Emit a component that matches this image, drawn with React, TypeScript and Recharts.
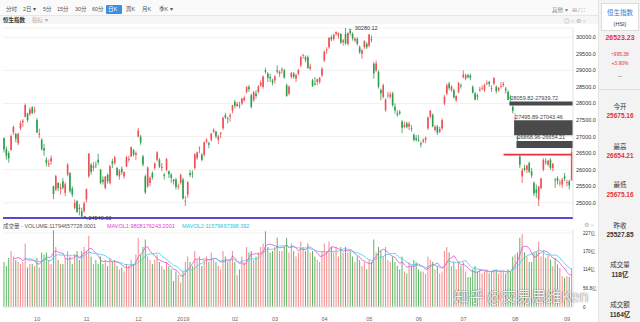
import React from 'react'
import {
  ComposedChart, Bar, Line, XAxis, YAxis, CartesianGrid, Cell,
  ReferenceArea, ReferenceLine, ReferenceDot,
} from 'recharts'

// HSI daily candles, 2018-09-10 .. 2019-09-04
const dates = [
  '2018-09-10','2018-09-11','2018-09-12','2018-09-13','2018-09-14','2018-09-17','2018-09-18','2018-09-19','2018-09-20','2018-09-21','2018-09-24','2018-09-26','2018-09-27','2018-09-28',
  '2018-10-02','2018-10-03','2018-10-04','2018-10-05','2018-10-08','2018-10-09','2018-10-10','2018-10-11','2018-10-12','2018-10-15','2018-10-16','2018-10-18','2018-10-19','2018-10-22','2018-10-23','2018-10-24','2018-10-25','2018-10-26','2018-10-29','2018-10-30','2018-10-31',
  '2018-11-01','2018-11-02','2018-11-05','2018-11-06','2018-11-07','2018-11-08','2018-11-09','2018-11-12','2018-11-13','2018-11-14','2018-11-15','2018-11-16','2018-11-19','2018-11-20','2018-11-21','2018-11-22','2018-11-23','2018-11-26','2018-11-27','2018-11-28','2018-11-29','2018-11-30',
  '2018-12-03','2018-12-04','2018-12-05','2018-12-06','2018-12-07','2018-12-10','2018-12-11','2018-12-12','2018-12-13','2018-12-14','2018-12-17','2018-12-18','2018-12-19','2018-12-20','2018-12-21','2018-12-24','2018-12-27','2018-12-28','2018-12-31',
  '2019-01-02','2019-01-03','2019-01-04','2019-01-07','2019-01-08','2019-01-09','2019-01-10','2019-01-11','2019-01-14','2019-01-15','2019-01-16','2019-01-17','2019-01-18','2019-01-21','2019-01-22','2019-01-23','2019-01-24','2019-01-25','2019-01-28','2019-01-29','2019-01-30','2019-01-31',
  '2019-02-01','2019-02-04','2019-02-08','2019-02-11','2019-02-12','2019-02-13','2019-02-14','2019-02-15','2019-02-18','2019-02-19','2019-02-20','2019-02-21','2019-02-22','2019-02-25','2019-02-26','2019-02-27','2019-02-28',
  '2019-03-01','2019-03-04','2019-03-05','2019-03-06','2019-03-07','2019-03-08','2019-03-11','2019-03-12','2019-03-13','2019-03-14','2019-03-15','2019-03-18','2019-03-19','2019-03-20','2019-03-21','2019-03-22','2019-03-25','2019-03-26','2019-03-27','2019-03-28','2019-03-29',
  '2019-04-01','2019-04-02','2019-04-03','2019-04-04','2019-04-08','2019-04-09','2019-04-10','2019-04-11','2019-04-12','2019-04-15','2019-04-16','2019-04-17','2019-04-18','2019-04-23','2019-04-24','2019-04-25','2019-04-26','2019-04-29','2019-04-30',
  '2019-05-02','2019-05-03','2019-05-06','2019-05-07','2019-05-08','2019-05-09','2019-05-10','2019-05-14','2019-05-15','2019-05-16','2019-05-17','2019-05-20','2019-05-21','2019-05-22','2019-05-23','2019-05-24','2019-05-27','2019-05-28','2019-05-29','2019-05-30','2019-05-31',
  '2019-06-03','2019-06-04','2019-06-05','2019-06-06','2019-06-10','2019-06-11','2019-06-12','2019-06-13','2019-06-14','2019-06-17','2019-06-18','2019-06-19','2019-06-20','2019-06-21','2019-06-24','2019-06-25','2019-06-26','2019-06-27','2019-06-28',
  '2019-07-02','2019-07-03','2019-07-04','2019-07-05','2019-07-08','2019-07-09','2019-07-10','2019-07-11','2019-07-12','2019-07-15','2019-07-16','2019-07-17','2019-07-18','2019-07-19','2019-07-22','2019-07-23','2019-07-24','2019-07-25','2019-07-26','2019-07-29','2019-07-30','2019-07-31',
  '2019-08-01','2019-08-02','2019-08-05','2019-08-06','2019-08-07','2019-08-08','2019-08-09','2019-08-12','2019-08-13','2019-08-14','2019-08-15','2019-08-16','2019-08-19','2019-08-20','2019-08-21','2019-08-22','2019-08-23','2019-08-26','2019-08-27','2019-08-28','2019-08-29','2019-08-30',
  '2019-09-02','2019-09-03','2019-09-04',
]

const opens = [
  26950,26620,26500,26600,27130,27080,26800,27250,27430,27600,27700,27680,27880,27760,
  27500,27050,26900,26650,26300,26150,26250,25500,25400,25600,25420,25650,25300,25850,25900,25430,24850,25050,24850,24750,24750,
  25100,25800,26150,26050,26150,26300,26000,25700,25450,25850,25600,26250,26200,26050,25800,26030,25800,26100,26300,26400,26600,26450,
  27000,27000,26400,25800,25500,25600,25900,26050,26300,26300,26050,25850,26000,25950,25850,25700,25700,25480,25600,
  25700,25050,25250,25900,25900,26050,26350,26650,26450,26450,26850,26800,26900,27150,27150,26900,27080,27250,27650,27550,27600,27780,
  28050,27920,27950,28000,28100,28350,28500,28250,28100,28300,28350,28550,28500,29000,28900,28800,28700,
  28700,29000,28900,29000,29000,28550,28300,28800,28900,28750,28900,29150,29450,29400,29400,29050,28700,28600,28650,28650,28850,
  29300,29600,29700,30000,29950,30100,30050,30100,29850,30100,29800,30200,30100,29900,29950,29700,29500,29700,29800,
  29750,29950,29200,29000,28950,28400,28200,27800,28250,28200,28300,27900,27700,27750,27450,27300,27400,27300,27250,27050,26950,
  26900,26800,26850,26900,27250,27600,27650,27200,27300,27150,27250,28000,28300,28600,28400,28400,28100,28350,28550,
  28800,28750,28850,28850,28500,28300,28250,28400,28450,28400,28600,28650,28450,28600,28500,28400,28500,28550,28450,28350,28200,27900,
  27550,27000,26400,25800,26050,26000,26200,25950,25600,25400,25100,25450,26000,26250,26150,26300,26050,25700,25750,25600,25550,25800,
  25600,25650,25675.16,
]

const highs = [
  26980,26700,26560,27060,27330,27120,27120,27480,27530,28000,27720,27880,27920,27900,
  27560,27240,26950,26780,26380,26310,26430,25520,25850,25620,25580,25750,25620,26200,25920,25500,25100,25080,24960,24850,25040,
  25430,26500,26200,26230,26250,26480,26020,25800,25810,25880,26150,26330,26420,26080,26020,26100,25950,26420,26420,26700,26620,26550,
  27260,27050,26450,25850,26100,25800,25950,26220,26560,26350,26200,25900,26350,25980,25900,25720,25750,25580,25880,
  25760,25200,25650,25990,25980,26500,26550,26700,26500,26850,26950,26850,27100,27250,27180,27050,27130,27600,27720,27600,27700,27960,
  28110,28050,28050,28180,28230,28520,28560,28300,28380,28400,28560,28700,28850,29080,28950,28900,28750,
  28860,29150,29000,29090,29050,28600,28550,28950,28950,28900,29050,29420,29500,29450,29450,29200,28750,28800,28750,28800,29100,
  29600,29700,30000,30060,30100,30180,30150,30120,29950,30280.12,30150,30250,30150,30000,30000,29750,29650,29900,29850,
  30100,30050,29250,29300,29000,28450,28600,28150,28350,28350,28350,28000,27800,27800,27500,27450,27450,27450,27350,27100,27050,
  27050,26850,26950,27000,27600,27800,27700,27350,27350,27300,27550,28250,28600,28650,28550,28450,28250,28650,28600,
  29000,28900,28900,28900,28550,28350,28300,28500,28550,28600,28700,28680,28550,28800,28550,28500,28650,28650,28500,28400,28250,27939.72,
  27700,27043.46,26450,26050,26150,26150,26250,26050,25650,25550,25500,25750,26350,26350,26300,26350,26200,25750,25800,25700,25750,25900,
  25700,25700,26654.21,
]

const lows = [
  26520,26300,26219,26560,27050,26830,26740,27200,27300,27580,27430,27620,27680,27700,
  27100,26950,26580,26420,26100,26080,26150,25110,25350,25350,25250,25400,25200,25800,25300,25170,24800,24700,24620,24540.63,24700,
  25010,25750,25850,25950,26050,26150,25560,25550,25400,25580,25560,26050,26150,25800,25700,25850,25730,26080,26230,26380,26400,26300,
  26980,26750,26100,25260,25450,25500,25700,26000,26250,26050,25950,25700,25950,25750,25600,25550,25400,25400,25550,
  25100,24900,25150,25780,25750,26000,26300,26500,26250,26400,26800,26650,26850,27100,26950,26780,26950,27200,27530,27400,27450,27700,
  27850,27900,27850,27950,28050,28300,28350,27850,28050,28150,28300,28500,28450,28900,28650,28650,28550,
  28600,28900,28800,28900,28750,28200,28250,28750,28750,28650,28850,29100,29350,29250,29050,29000,28500,28550,28550,28600,28800,
  29250,29500,29650,29880,29900,30050,29950,29800,29750,29780,29750,30050,29900,29850,29750,29500,29350,29650,29650,
  29700,29850,28750,28950,28450,28100,28150,27750,28150,28150,27900,27700,27600,27650,27100,27250,27250,27200,27150,26850,26850,
  26850,26670,26800,26800,27200,27550,27280,27150,27050,27100,27200,27950,28250,28400,28350,28150,28050,28300,28450,
  28750,28700,28750,28700,28300,28100,28100,28350,28400,28350,28550,28500,28350,28550,28300,28350,28450,28500,28300,28100,28059.82,27700,
  27495.89,26868.96,26050,25600,25950,25900,25900,25750,25200,25150,24899,25400,25950,26150,26100,26000,25950,25450,25550,25500,25450,25650,
  25500,25400,25675.16,
]

const closes = [
  26613,26422,26345,27014,27286,26933,27084,27407,27477,27953,27499,27816,27715,27788,
  27126,27091,26623,26573,26202,26193,26345,25266,25801,25445,25462,25454,25561,26153,25346,25249,24994,24717,24812,24585,24979,
  25416,26486,25934,26120,26148,26227,25601,25633,25792,25654,26103,26184,26372,25843,25969,25928,25927,26376,26331,26682,26451,26507,
  27182,26819,26156,25314,26063,25752,25771,26186,26524,26094,26087,25814,26325,25865,25753,25651,25478,25504,25845,
  25130,25064,25626,25835,25875,26462,26521,26667,26298,26830,26902,26755,27090,27196,27005,27008,27120,27569,27576,27531,27642,27942,
  27930,27990,27946,28143,28171,28497,28432,27900,28347,28228,28514,28629,28816,28959,28772,28757,28633,
  28812,28961,28960,29037,28779,28228,28503,28920,28807,28851,29012,29409,29466,29320,29071,29113,28523,28567,28728,28775,29051,
  29562,29624,29986,29936,30077,30157,30119,29839,29909,29812,30129,30124,29963,29963,29805,29549,29605,29893,29699,
  30082,29944,28912,29210,28503,28311,28550,28122,28268,28275,27946,27788,27657,27705,27267,27353,27288,27390,27235,26901,26901,
  26893,26761,26895,26965,27578,27789,27308,27294,27118,27227,27498,28202,28550,28473,28513,28185,28221,28621,28542,
  28875,28855,28795,28775,28331,28116,28204,28431,28471,28554,28619,28593,28461,28765,28371,28466,28524,28594,28397,28106,28146,27777,
  27565,26918,26151,25976,25997,26121,25939,25824,25281,25302,25495,25734,26291,26231,26270,26048,26179,25680,25664,25615,25703,25725,
  25626,25527.85,26523.23,
]

// volume, 亿
const volumes = [
  138,126,150,172,155,144,138,132,138,195,121,132,132,126,
  150,121,167,161,167,144,132,235,184,144,132,132,150,172,155,132,161,172,144,172,184,
  172,218,155,132,144,132,155,132,144,126,150,138,144,126,115,121,109,132,126,144,132,161,
  212,161,184,207,155,144,132,144,161,138,126,115,138,126,115,80,109,98,75,
  109,138,155,138,126,172,144,155,126,144,155,138,167,144,138,126,115,172,155,138,144,172,
  138,98,115,155,138,184,167,172,144,155,167,184,195,232,184,167,172,
  184,212,172,172,184,212,167,195,172,155,167,201,184,172,195,167,172,155,144,138,172,
  195,172,201,184,167,184,155,184,167,184,167,172,155,138,155,144,126,138,115,
  144,138,207,167,184,172,155,184,144,138,155,138,126,115,155,109,103,138,126,144,138,
  115,109,109,103,155,144,138,115,126,103,109,172,184,167,126,138,115,138,126,
  138,109,92,92,115,126,109,115,103,109,115,103,109,115,115,103,109,109,103,115,109,155,
  161,167,212,224,167,155,138,138,167,172,201,155,172,150,160,145,125,150,130,120,95,90,
  95,92,118,
]

const priceTicks = [25000, 25500, 26000, 26500, 27000, 27500, 28000, 28500, 29000, 29500, 30000]
const volTicks = [0, 28.4, 56.8, 85.2, 114, 142, 170, 199, 227]
const monthTicks = ['2018-10-02','2018-11-01','2018-12-03','2019-01-02','2019-02-01','2019-03-01','2019-04-01','2019-05-02','2019-06-03','2019-07-02','2019-08-01','2019-09-02']
const monthLabels = ['10','11','12','2019','02','03','04','05','06','07','08','09']

// unfilled gaps: [from date, upper, lower]
const gaps: [string, number, number][] = [
  ['2019-07-30', 28059.82, 27939.72],
  ['2019-08-01', 27495.89, 27043.46],
  ['2019-08-02', 26868.96, 26654.21],
]

const UP = '#ee4f55'
const DOWN = '#2c9e4b'
const UP_VOL = '#f28a8c'
const DOWN_VOL = '#5bb662'

const movingAvg = (n: number) =>
  volumes.map((_, i) => (i < n - 1 ? null : volumes.slice(i - n + 1, i + 1).reduce((a, b) => a + b, 0) / n))
const ma5 = movingAvg(5)
const ma10 = movingAvg(10)

const rows = dates.map((d, i) => ({
  d, o: opens[i], h: highs[i], l: lows[i], c: closes[i],
  range: [lows[i], highs[i]], v: volumes[i], ma5: ma5[i], ma10: ma10[i],
}))

const Candle = (p: any) => {
  const { x, y, width, height, payload } = p
  const { o, h, l, c } = payload
  const color = c >= o ? UP : DOWN
  const top = Math.min(y, y + height)
  const span = Math.abs(height)
  const py = (v: number) => top + ((h - v) / (h - l || 1)) * span
  const cx = x + width / 2
  const b1 = py(Math.max(o, c))
  const b2 = py(Math.min(o, c))
  return (
    <g>
      <line x1={cx} x2={cx} y1={top} y2={top + span} stroke={color} strokeWidth={0.8} />
      <rect x={cx - 0.8} y={b1} width={1.6} height={Math.max(0.8, b2 - b1)} fill={color} />
    </g>
  )
}

const font = '"Liberation Sans", Arial, "Noto Sans CJK SC", sans-serif'

const T = ({ x, y, size = 5.5, color = '#555', weight = 400, center = false, children }: any) => (
  <div
    style={{
      position: 'absolute', left: x, top: y - size * 0.6, fontSize: size, lineHeight: 1.2,
      color, fontWeight: weight, whiteSpace: 'nowrap',
      transform: center ? 'translateX(-50%)' : undefined,
    }}
  >
    {children}
  </div>
)

export default function App() {
  return (
    <div style={{ position: 'absolute', left: 0, top: 0, width: 640, height: 322, background: '#fff', overflow: 'hidden', fontFamily: font }}>
      {/* toolbar */}
      <div style={{ position: 'absolute', left: 0, top: 0, width: 598, height: 15, background: '#fafafa', borderBottom: '1px solid #e6e6e6' }} />
      <div style={{ position: 'absolute', left: 0, top: 16, width: 598, height: 8, background: '#f6f6f6' }} />
      <div style={{ position: 'absolute', left: 106, top: 5, width: 16, height: 9, background: '#3a8ee6', borderRadius: 1 }} />
      <T x={6} y={9.5}>分时</T>
      <T x={23} y={9.5}>2日 ▾</T>
      <T x={43} y={9.5}>5分</T>
      <T x={57} y={9.5}>15分</T>
      <T x={75} y={9.5}>30分</T>
      <T x={92} y={9.5}>60分</T>
      <T x={108} y={9.5} color="#fff">日K</T>
      <T x={126} y={9.5}>周K</T>
      <T x={142} y={9.5}>月K</T>
      <T x={159} y={9.5}>季K ▾</T>
      <T x={3} y={20} color="#333" weight={700}>恒生指数</T>
      <T x={32} y={20} color="#aaa">指标 ▾</T>
      <T x={552} y={10} color="#888">其他 ▾</T>
      <T x={572} y={10} color="#999">⊞ ⁄ ⛶</T>
      <T x={564} y={21} color="#aaa">◎ ○ ⚙ ○</T>

      {/* price pane */}
      <div style={{ position: 'absolute', left: 0, top: 24 }}>
        <ComposedChart width={598} height={198} data={rows} margin={{ top: 4, right: 0, bottom: 4, left: 3 }} barCategoryGap={0}>
          <CartesianGrid vertical={false} stroke="#f1f1f1" />
          <XAxis dataKey="d" hide />
          <YAxis
            orientation="right" width={25} domain={[24540.63, 30280.12]} ticks={priceTicks}
            tickSize={0} tickMargin={3} axisLine={{ stroke: '#e2e2e2' }} allowDataOverflow
            tick={{ fontSize: 5.5, fill: '#333', fontFamily: font }} tickFormatter={(v: number) => v.toFixed(1)}
          />
          {gaps.map(([d, hi, lo]) => (
            <ReferenceArea
              key={d} x1={d} x2="2019-09-04" y1={lo} y2={hi} fill="#4a4a4a" fillOpacity={1} stroke="none" ifOverflow="visible"
              label={(p: any) => (
                <text x={p.viewBox.x + 1} y={p.viewBox.y - 1.5} fontSize={5.5} fill="#444" fontFamily={font}>
                  {`${hi.toFixed(2)}-${lo.toFixed(2)}`}
                </text>
              )}
            />
          ))}
          <Bar dataKey="range" shape={<Candle />} isAnimationActive={false} />
          <ReferenceLine
            segment={[{ x: '2019-07-25', y: 26456 }, { x: '2019-09-04', y: 26456 }]}
            stroke="#e8313a" strokeWidth={1.6} ifOverflow="visible"
          />
          <ReferenceLine y={24540.63} stroke="#5b46d6" strokeWidth={2} ifOverflow="visible" />
          <ReferenceDot
            x="2019-04-15" y={30280.12} r={0} ifOverflow="visible"
            label={{ value: '← 30280.12', position: 'right', fontSize: 5.5, fill: '#333', offset: 2 }}
          />
          <ReferenceDot
            x="2018-10-30" y={24540.63} r={0} ifOverflow="visible"
            label={{ value: '↖24540.63', position: 'right', fontSize: 5.5, fill: '#333', offset: 1 }}
          />
        </ComposedChart>
      </div>

      {/* volume pane */}
      <T x={3} y={226} color="#555">成交量 - VOLUME:11794657728.0001</T>
      <T x={107} y={226} color="#e03cd4">MAVOL1:9808176243.2001</T>
      <T x={182} y={226} color="#27c4d6">MAVOL2:11579697398.392</T>
      <T x={584} y={225} color="#aaa">⚙ ○</T>
      <div style={{ position: 'absolute', left: 0, top: 230 }}>
        <ComposedChart width={598} height={92} data={rows} margin={{ top: 0, right: 0, bottom: 0, left: 3 }} barCategoryGap="20%">
          <CartesianGrid vertical={false} stroke="#f1f1f1" />
          <XAxis
            dataKey="d" ticks={monthTicks} interval={0} height={15} tickLine={false}
            axisLine={{ stroke: '#e6e6e6' }} tickMargin={4}
            tick={{ fontSize: 5.5, fill: '#666', fontFamily: font }}
            tickFormatter={(d: string) => monthLabels[monthTicks.indexOf(d)]}
          />
          <YAxis
            orientation="right" width={25} domain={[0, 236]} ticks={volTicks} allowDataOverflow
            tickSize={0} tickMargin={10} axisLine={{ stroke: '#e2e2e2' }}
            tick={{ fontSize: 4.6, fill: '#333', fontFamily: font }}
            tickFormatter={(v: number) => (v === 0 ? '0' : `${v}亿`)}
          />
          <Bar dataKey="v" isAnimationActive={false}>
            {rows.map((r) => (
              <Cell key={r.d} fill={r.c >= r.o ? UP_VOL : DOWN_VOL} />
            ))}
          </Bar>
          <Line dataKey="ma5" stroke="#e24fd8" strokeWidth={0.8} dot={false} isAnimationActive={false} />
          <Line dataKey="ma10" stroke="#3dcfe0" strokeWidth={0.8} dot={false} isAnimationActive={false} />
        </ComposedChart>
      </div>

      {/* info panel */}
      <div style={{ position: 'absolute', left: 598, top: 0, width: 42, height: 322, background: '#f3f3f3', borderLeft: '1px solid #e3e3e3' }} />
      <div style={{ position: 'absolute', left: 601, top: 3, width: 36, height: 26, background: '#fff', border: '1px solid #ddd' }} />
      <T x={620} y={13} size={6.5} color="#2f7fd6" center>恒生指数</T>
      <T x={620} y={24} size={5.5} color="#333" center>(HSI)</T>
      <T x={620} y={38} size={7} color="#e5323a" weight={700} center>26523.23</T>
      <T x={620} y={54} size={5} color="#e5323a" center>↑995.38</T>
      <T x={620} y={63} size={5} color="#e5323a" center>+3.90%</T>
      <T x={620} y={77} size={6} color="#333" center>--</T>
      <div style={{ position: 'absolute', left: 599, top: 89, width: 41, height: 1, background: '#e0e0e0' }} />
      <T x={620} y={107} size={6.5} color="#333" center>今开</T>
      <T x={620} y={116} size={6.5} color="#e5323a" weight={700} center>25675.16</T>
      <T x={620} y={147} size={6.5} color="#333" center>最高</T>
      <T x={620} y={156} size={6.5} color="#e5323a" weight={700} center>26654.21</T>
      <T x={620} y={185} size={6.5} color="#333" center>最低</T>
      <T x={620} y={195} size={6.5} color="#e5323a" weight={700} center>25675.16</T>
      <T x={620} y={226} size={6.5} color="#333" center>昨收</T>
      <T x={620} y={235} size={6.5} color="#333" weight={700} center>25527.85</T>
      <T x={620} y={265} size={6.5} color="#333" center>成交量</T>
      <T x={620} y={275} size={6.5} color="#333" weight={700} center>118亿</T>
      <T x={620} y={305} size={6.5} color="#333" center>成交额</T>
      <T x={620} y={315} size={6.5} color="#333" weight={700} center>1164亿</T>

      {/* watermark */}
      <div
        style={{
          position: 'absolute', left: 454, top: 285, fontSize: 15, color: 'rgba(255,255,255,0.92)',
          textShadow: '0 0 1px rgba(0,0,0,0.55), 0 0 2px rgba(0,0,0,0.3)', whiteSpace: 'nowrap',
          fontFamily: '"Noto Sans CJK SC", sans-serif',
        }}
      >
        知乎 @交易思维Ken
      </div>
    </div>
  )
}
